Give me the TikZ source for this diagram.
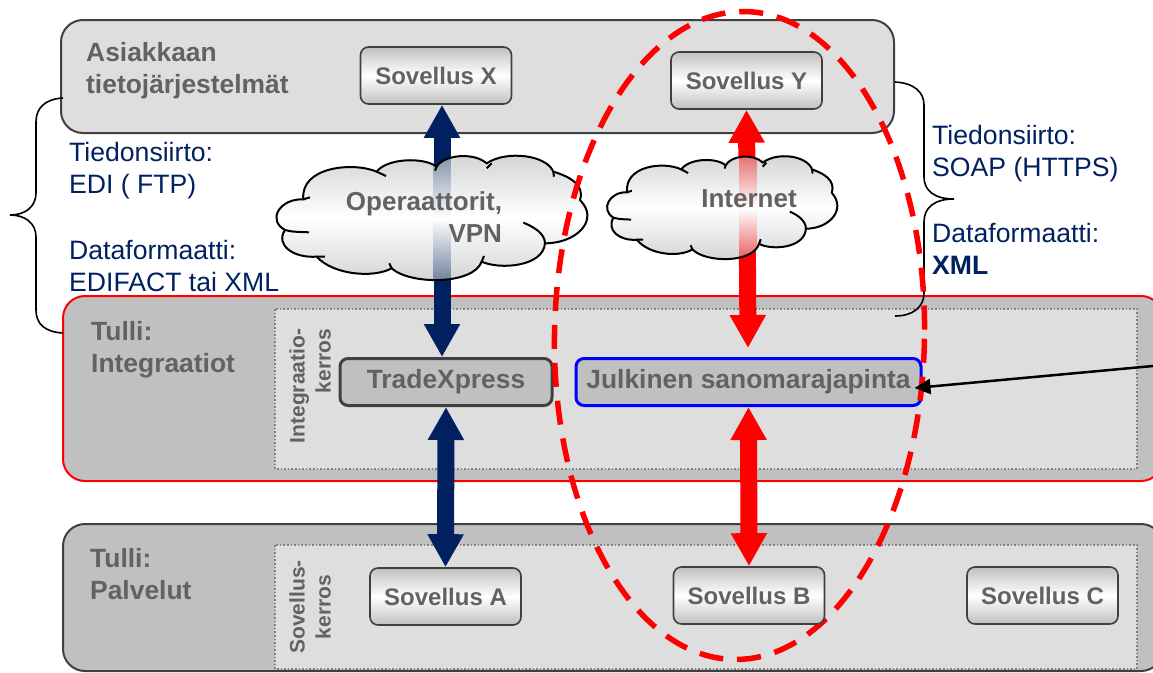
\documentclass[tikz,border=0pt]{standalone}
\usepackage{fontspec}
\setmainfont{Liberation Sans}
\usetikzlibrary{arrows.meta}
\pgfdeclarelayer{front}
\pgfsetlayers{main,front}
\definecolor{navyblock}{RGB}{0,32,96}
\definecolor{labelgray}{RGB}{98,98,98}
\definecolor{panellight}{RGB}{222,222,222}
\definecolor{paneldark}{RGB}{192,192,192}
\definecolor{edgegray}{RGB}{64,64,64}
\definecolor{cloudgray}{RGB}{208,210,210}
\newcommand*{\CloudPath}{(130,238) .. controls (60,235) and (20,300) .. (75,330)
  .. controls (45,375) and (100,415) .. (170,410)
  .. controls (220,465) and (340,475) .. (395,445)
  .. controls (450,495) and (640,495) .. (665,425)
  .. controls (720,450) and (850,440) .. (855,370)
  .. controls (950,370) and (1020,300) .. (960,240)
  .. controls (975,195) and (930,170) .. (880,155)
  .. controls (860,105) and (740,90) .. (680,130)
  .. controls (640,95) and (550,105) .. (530,140)
  .. controls (490,110) and (380,115) .. (350,155)
  .. controls (280,125) and (120,140) .. (130,238) -- cycle}
\newcommand*{\CloudHooks}{(130,238) -- (150,232) (75,330) .. controls (95,335) .. (147,337)
  (170,410) -- (195,410) (395,445) -- (388,430) (665,425) -- (672,408)
  (855,370) .. controls (855,340) and (820,320) .. (790,308) (880,155) -- (882,170)
  (680,145) -- (695,130) (530,140) -- (525,152) (350,155) -- (378,168)}
\tikzset{
  panelbox/.style={line width=2pt,draw=edgegray,fill=paneldark,rounded corners=22pt},
  innerbox/.style={line width=1.6pt,draw=gray,dotted,fill=panellight},
  sovbox/.style={draw=edgegray,line width=1.6pt,rounded corners=8pt,top color=paneldark,
    bottom color=paneldark,middle color=white,minimum width=151pt,minimum height=57pt,inner sep=0pt,
    text=labelgray,font=\fontsize{24}{28}\selectfont\bfseries},
  midbox/.style={line width=3pt,rounded corners=8pt,fill=paneldark,minimum height=47pt,inner sep=0pt,
    text=labelgray,font=\fontsize{26.4}{30}\selectfont\bfseries},
  paneltext/.style={anchor=west,align=left,inner sep=0pt,text=labelgray,
    font=\fontsize{26.4}{32}\selectfont\bfseries},
  sidetext/.style={rotate=90,inner sep=0pt,text=labelgray,font=\fontsize{21}{26}\selectfont\bfseries},
  infotext/.style={anchor=west,align=left,inner sep=0pt,text=navyblock,
    font=\fontsize{26.6}{32}\selectfont},
  cloudtext/.style={inner sep=0pt,text=labelgray,font=\fontsize{26}{32}\selectfont\bfseries},
  blockarrow/.style={line width=17pt,{Triangle[width=34pt,length=33pt]}-{Triangle[width=34pt,length=33pt]}},
  cloudfill/.style={top color=cloudgray,bottom color=cloudgray,middle color=white},
  cloudone/.style={shift={(260,120)},x=0.3333pt,y=-0.3333pt},
  cloudtwo/.style={shift={(594.9,126.7)},x=0.2468pt,y=-0.2757pt},
}
\begin{document}
\begin{tikzpicture}[x=1pt,y=-1pt]
  \useasboundingbox (0,0) rectangle (1153,672);
  % panels
  \draw[panelbox,fill=panellight] (61,20) rectangle (894,133);
  \draw[panelbox,draw=red] (63,296) rectangle (1163,481);
  \draw[panelbox] (63,524) rectangle (1163,671);
  \draw[innerbox] (275,309) rectangle (1137,469);
  \draw[innerbox] (275,545) rectangle (1137,669);
  \node[paneltext] (asiakas) at (86,70.5) {Asiakkaan\\tietojärjestelmät};
  \node[paneltext] (integraatiot) at (91,350) {Tulli:\\Integraatiot};
  \node[paneltext] (palvelut) at (90,574) {Tulli:\\Palvelut};
  \node[sidetext,align=right] (integkerros) at (310,386) {Integraatio-\\kerros};
  \node[sidetext,align=center] (sovkerros) at (310,607) {Sovellus-\\kerros};
  % middle boxes
  \node[midbox,draw=edgegray,minimum width=212pt] (tradex) at (446,382) {TradeXpress};
  \node[midbox,draw=blue,minimum width=345pt] (julkinen) at (748.5,382) {Julkinen sanomarajapinta};
  % applications
  \begin{pgfonlayer}{front}
    \node[sovbox] (sovx) at (436,75.5) {Sovellus X};
    \node[sovbox] (sovy) at (746.5,80.5) {Sovellus Y};
    \node[sovbox] (sova) at (445.5,596.5) {Sovellus A};
    \node[sovbox] (sovb) at (749,595.5) {Sovellus B};
    \node[sovbox] (sovc) at (1042.5,595.5) {Sovellus C};
  \end{pgfonlayer}
  % arrows
  \draw[blockarrow,navyblock] ([xshift=6pt]sovx.south) -- ([xshift=-4pt]tradex.north);
  \draw[blockarrow,navyblock] (tradex.south) -- (sova.north);
  \draw[blockarrow,red] (sovy.south) -- ([xshift=-0.5pt,yshift=9pt]julkinen.north);
  \draw[blockarrow,red] (julkinen.south) -- (sovb.north);
  % clouds
  \begin{scope}[cloudone]
    \shade[cloudfill] \CloudPath;
    \begin{scope}
      \clip \CloudPath;
      \shade[top color=navyblock!35!cloudgray,bottom color=navyblock!45!cloudgray,middle color=white]
        (520,110) rectangle (572,480);
    \end{scope}
    \draw[line width=2pt,black] \CloudPath;
    \draw[line width=2pt,black] \CloudHooks;
  \end{scope}
  \begin{scope}[cloudtwo]
    \shade[cloudfill] \CloudPath;
    \begin{scope}
      \clip \CloudPath;
      \shade[top color=red!45!cloudgray,bottom color=red!55!cloudgray,middle color=white]
        (584,110) rectangle (655,480);
    \end{scope}
    \draw[line width=2pt,black] \CloudPath;
    \draw[line width=2pt,black] \CloudHooks;
  \end{scope}
  \node[cloudtext,align=right] (operaattorit) at (424,217) {Operaattorit,\\VPN};
  \node[cloudtext] (internet) at (749,199) {Internet};
  % braces
  \draw[line width=1.6pt] (63,98) .. controls (45,99) and (36,108) .. (36,122) -- (36,193)
    .. controls (36,207) and (25,215) .. (10,215) .. controls (25,215) and (36,223) .. (36,237)
    -- (36,310) .. controls (36,324) and (45,332) .. (63,333);
  \draw[line width=1.6pt] (895,82) .. controls (914,83) and (924,92) .. (924,105) -- (924,177)
    .. controls (924,191) and (935,199) .. (954,199) .. controls (935,199) and (924,207) .. (924,222)
    -- (924,293) .. controls (924,307) and (913,316) .. (895,316);
  \node[infotext] (edisiirto) at (69,170.5) {Tiedonsiirto:\\EDI ( FTP)};
  \node[infotext] (ediformaatti) at (69,266) {Dataformaatti:\\EDIFACT tai XML};
  \node[infotext] (soapsiirto) at (932,153.5) {Tiedonsiirto:\\SOAP (HTTPS)};
  \node[infotext] (soapformaatti) at (932,248.5) {Dataformaatti:\\\textbf{XML}};
  % dashed ellipse
  \draw[red,line width=5.5pt,dash pattern=on 24pt off 14pt,rotate around={-1:(739.5,335.5)}] (739.5,335.5) ellipse [x radius=185,y radius=324];
  \coordinate (pointerstart) at (1153,366);
  \draw[line width=2.5pt,-{Triangle[width=15pt,length=16pt]}] (pointerstart) -- ([xshift=-8pt,yshift=-6pt]julkinen.east);
\end{tikzpicture}
\end{document}
